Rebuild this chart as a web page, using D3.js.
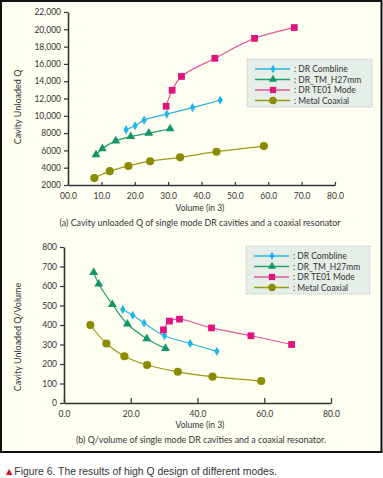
<!DOCTYPE html>
<html><head><meta charset="utf-8">
<script src="https://cdn.jsdelivr.net/npm/d3@7/dist/d3.min.js"></script>
<style>
html,body{margin:0;padding:0;background:#ffffff;}
svg{display:block;}
text{font-family:"Lato","DejaVu Sans",sans-serif;fill:#333;}
</style></head>
<body><svg id="c" width="383" height="478"></svg>
<script>
// ---------- DATA ----------
const seriesNames = [": DR Combline", ": DR_TM_H27mm", ": DR TE01 Mode", ": Metal Coaxial"];
// (a) Cavity unloaded Q
const combVol = [17.4, 20.1, 22.8, 29.6, 37.3, 45.6];
const combQ   = [8400, 8850, 9500, 10200, 10950, 11800];
const tmVol   = [8.4, 10.3, 14.3, 18.8, 24.2, 30.6];
const tmQ     = [5500, 6200, 7100, 7600, 8000, 8500];
const te01Vol = [29.4, 31.2, 34.0, 44.0, 55.9, 67.8];
const te01Q   = [11100, 12950, 14550, 16650, 18950, 20200];
const coaxVol = [7.9, 12.5, 18.1, 24.6, 33.6, 44.5, 58.7];
const coaxQ   = [2800, 3600, 4200, 4750, 5200, 5850, 6500];
// (b) Q / volume
const combVolB = [17.6, 20.6, 24.0, 30.1, 37.8, 45.8];
const combQV   = [480, 450, 410, 345, 305, 265];
const tmVolB   = [8.9, 10.4, 14.5, 19.0, 24.8, 30.4];
const tmQV     = [670, 610, 505, 405, 330, 280];
const te01VolB = [29.8, 31.6, 34.6, 44.2, 56.0, 68.2];
const te01QV   = [375, 420, 430, 385, 345, 300];
const coaxVolB = [7.9, 12.7, 18.1, 24.9, 34.1, 44.5, 59.1];
const coaxQV   = [400, 305, 240, 195, 160, 135, 113];
// ticks
const xTicksA = [0,10,20,30,40,50,60,70,80];
const xTickLabelsA = ["00.0","10.0","20.0","30.0","40.0","50.0","60.0","70.0","80.0"];
const yTicksA = [2000,4000,6000,8000,10000,12000,14000,16000,18000,20000,22000];
const yTickLabelsA = ["2000","4000","6000","8000","10,000","12,000","14,000","16,000","18,000","20,000","22,000"];
const xTicksB = [0,20,40,60,80];
const xTickLabelsB = ["0.0","20.0","40.0","60.0","80.0"];
const yTicksB = [0,100,200,300,400,500,600,700,800];
const yTickLabelsB = ["0","100","200","300","400","500","600","700","800"];
const yTitleA = "Cavity Unloaded Q";
const yTitleB = "Cavity Unloaded Q/Volume";
const xTitle = "Volume (in 3)";
const captionA = "(a) Cavity unloaded Q of single mode DR cavities and a coaxial resonator";
const captionB = "(b) Q/volume of single mode DR cavities and a coaxial resonator.";
const figCaption = "Figure 6. The results of high Q design of different modes.";

// ---------- STYLE ----------
const lineColors = ["#2ab4e6", "#22a070", "#e0589e", "#9c9a10"];
const markColors = ["#1eb4ec", "#13966a", "#e0147c", "#8c8a00"];
const markTypes = [d3.symbolDiamond, d3.symbolTriangle, d3.symbolSquare, d3.symbolCircle];
const markSizes = [24, 34, 46, 52];

const svg = d3.select("#c");
svg.append("rect").attr("x",1).attr("y",1).attr("width",380.5).attr("height",451)
  .attr("fill","#fffff2").attr("stroke","#111").attr("stroke-width",2);

function panel(cfg){
  const g = svg.append("g");
  const x = d3.scaleLinear().domain([0,80]).range(cfg.xr);
  const y = d3.scaleLinear().domain(cfg.yd).range(cfg.yr);
  const xa = d3.axisBottom(x).tickValues(cfg.xt).tickSizeInner(-cfg.xtick).tickSizeOuter(0)
    .tickFormat((d,i)=>cfg.xl[i]).tickPadding(8);
  const gx = g.append("g").attr("transform",`translate(0,${cfg.yr[0]})`).call(xa);
  const ya = d3.axisLeft(y).tickValues(cfg.yt).tickSizeInner(4).tickSizeOuter(0)
    .tickFormat((d,i)=>cfg.yl[i]).tickPadding(3);
  const gy = g.append("g").attr("transform",`translate(${cfg.xr[0]},0)`).call(ya);
  [gx,gy].forEach(a=>{
    a.select(".domain").attr("stroke","#333").attr("stroke-width",1.6);
    a.selectAll(".tick line").attr("stroke","#333").attr("stroke-width",1.2);
    a.selectAll(".tick text").attr("font-size",8.5).attr("fill","#444")
      .style("font-family","Lato, sans-serif");
  });
  cfg.series.forEach((s,i)=>{
    const pts = s.v.map((v,j)=>[x(v), y(s.q[j])]);
    g.append("path").attr("d", d3.line().curve(d3.curveCatmullRom.alpha(0.5))(pts))
      .attr("fill","none").attr("stroke",lineColors[i]).attr("stroke-width",1.2);
    g.selectAll(null).data(pts).join("path")
      .attr("transform",d=>`translate(${d[0]},${d[1]})`)
      .attr("d", d3.symbol().type(markTypes[i]).size(markSizes[i]))
      .attr("fill",markColors[i]);
  });
  const L = cfg.leg;
  g.append("rect").attr("x",L.x).attr("y",L.y).attr("width",L.w).attr("height",L.h)
    .attr("fill","#e6eee8").attr("stroke","#b8c2bc").attr("stroke-dasharray","1,1");
  seriesNames.forEach((n,i)=>{
    const yy = L.y + 10 + i*10.5;
    g.append("line").attr("x1",L.x+8).attr("x2",L.x+43).attr("y1",yy).attr("y2",yy)
      .attr("stroke",lineColors[i]).attr("stroke-width",1.4);
    g.append("path").attr("transform",`translate(${L.x+26},${yy})`)
      .attr("d", d3.symbol().type(markTypes[i]).size(markSizes[i]*0.85)).attr("fill",markColors[i]);
    g.append("text").attr("x",L.x+47).attr("y",yy+3).attr("font-size",8.5).attr("fill","#444").text(n);
  });
  g.append("text").attr("transform",`translate(${cfg.ytx},${cfg.yty}) rotate(-90)`)
    .attr("text-anchor","middle").attr("font-size",9).text(cfg.ytitle);
  g.append("text").attr("x",200).attr("y",cfg.xty).attr("text-anchor","middle")
    .attr("font-size",8.5).attr("fill","#444").text(xTitle);
  g.append("text").attr("x",cfg.capx).attr("y",cfg.capy).attr("text-anchor","middle")
    .attr("font-size",8.5).attr("fill","#444").attr("textLength",cfg.capw).attr("lengthAdjust","spacingAndGlyphs").text(cfg.cap);
}

panel({xr:[68,335], yd:[2000,22000], yr:[185,12], xt:xTicksA, xl:xTickLabelsA, yt:yTicksA, yl:yTickLabelsA, xtick:3,
  series:[{v:combVol,q:combQ},{v:tmVol,q:tmQ},{v:te01Vol,q:te01Q},{v:coaxVol,q:coaxQ}],
  leg:{x:247,y:59,w:125,h:48}, ytitle:yTitleA, ytx:21, yty:107, xty:211, cap:captionA, capx:200, capy:226, capw:281});
panel({xr:[64,331], yd:[0,800], yr:[403,247], xt:xTicksB, xl:xTickLabelsB, yt:yTicksB, yl:yTickLabelsB, xtick:5,
  series:[{v:combVolB,q:combQV},{v:tmVolB,q:tmQV},{v:te01VolB,q:te01QV},{v:coaxVolB,q:coaxQV}],
  leg:{x:246,y:246,w:124,h:48}, ytitle:yTitleB, ytx:21, yty:337, xty:428, cap:captionB, capx:201, capy:443, capw:250});

const fc = svg.append("text").attr("x",4).attr("y",475).attr("font-size",10.5)
  .attr("textLength",273).attr("lengthAdjust","spacingAndGlyphs")
  .style("font-family","'Liberation Sans', Arial, sans-serif");
fc.append("tspan").attr("fill","#cc1020").text("▲");
fc.append("tspan").attr("fill","#333").text(figCaption);
</script></body></html>
